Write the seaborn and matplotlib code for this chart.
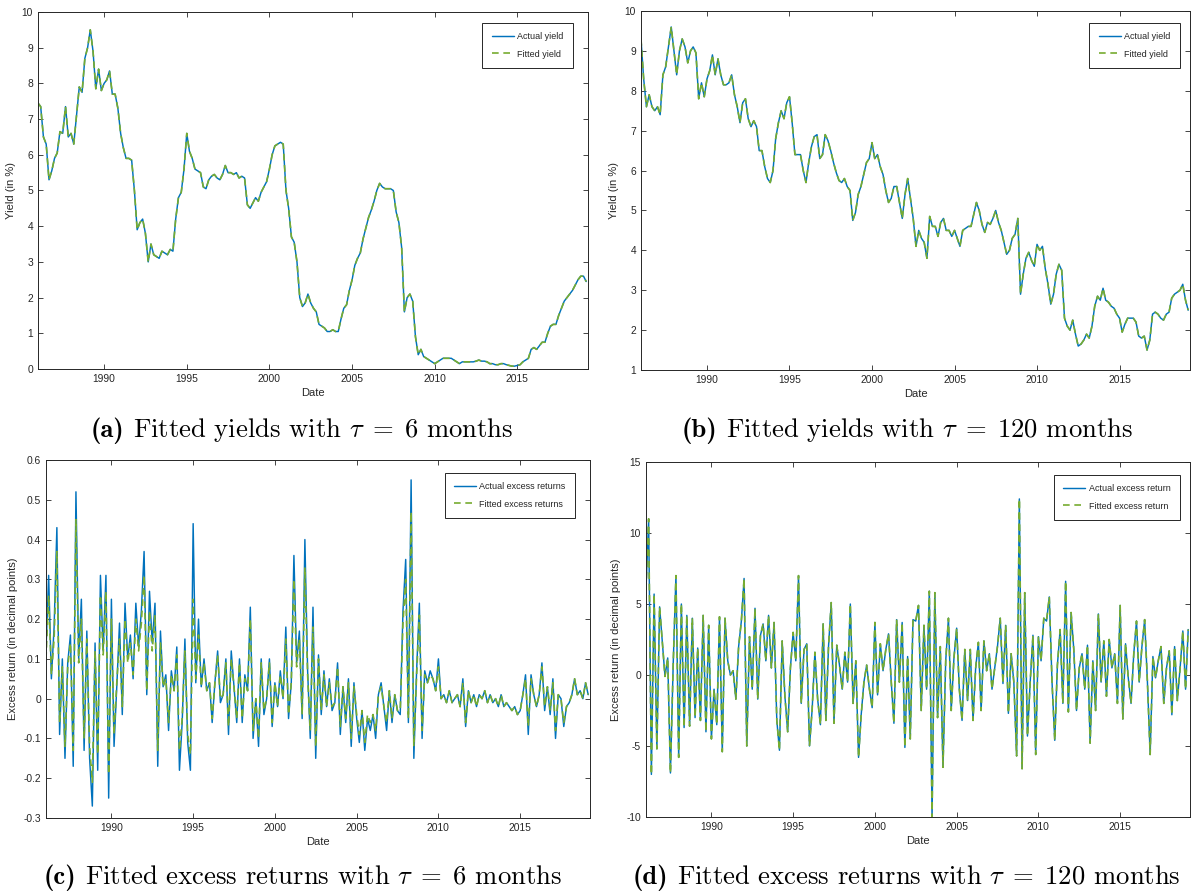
import numpy as np
import pandas as pd
import matplotlib
matplotlib.use("Agg")
import matplotlib.pyplot as plt
import matplotlib.dates as mdates
from matplotlib.ticker import FuncFormatter
import seaborn as sns

# bimonthly observations, Jan 1986 .. Mar 2019
dates = pd.date_range("1986-01-01", periods=200, freq="2MS")

# (a) 6-month yield, in %
yield_6m = [
    7.45, 7.35, 6.5, 6.3, 5.3, 5.55,
    5.9, 6.05, 6.65, 6.6, 7.35, 6.5,
    6.6, 6.3, 7.1, 7.9, 7.75, 8.7,
    9.0, 9.5, 8.9, 7.85, 8.4, 7.8,
    8.0, 8.1, 8.35, 7.7, 7.7, 7.3,
    6.6, 6.2, 5.9, 5.9, 5.85, 5.0,
    3.9, 4.1, 4.2, 3.8, 3.0, 3.5,
    3.2, 3.15, 3.1, 3.3, 3.25, 3.2,
    3.35, 3.3, 4.2, 4.8, 4.95, 5.6,
    6.6, 6.1, 5.9, 5.6, 5.55, 5.5,
    5.1, 5.05, 5.3, 5.4, 5.45, 5.35,
    5.3, 5.45, 5.7, 5.5, 5.5, 5.45,
    5.5, 5.35, 5.4, 5.35, 4.6, 4.5,
    4.65, 4.8, 4.7, 4.95, 5.1, 5.25,
    5.6, 6.0, 6.25, 6.3, 6.35, 6.3,
    5.0, 4.5, 3.7, 3.55, 3.0, 2.0,
    1.75, 1.85, 2.1, 1.85, 1.7, 1.6,
    1.25, 1.2, 1.15, 1.05, 1.05, 1.1,
    1.05, 1.05, 1.4, 1.7, 1.8, 2.2,
    2.5, 2.9, 3.1, 3.25, 3.65, 3.95,
    4.25, 4.45, 4.7, 5.0, 5.2, 5.1,
    5.05, 5.05, 5.05, 5.0, 4.4, 4.1,
    3.4, 1.6, 2.0, 2.1, 1.9, 0.9,
    0.4, 0.55, 0.35, 0.3, 0.25, 0.2,
    0.15, 0.2, 0.25, 0.3, 0.3, 0.3,
    0.3, 0.25, 0.2, 0.15, 0.2, 0.2,
    0.2, 0.2, 0.2, 0.22, 0.25, 0.22,
    0.22, 0.2, 0.15, 0.15, 0.12, 0.12,
    0.15, 0.15, 0.12, 0.1, 0.08, 0.08,
    0.1, 0.12, 0.2, 0.25, 0.3, 0.55,
    0.6, 0.55, 0.65, 0.75, 0.75, 1.0,
    1.2, 1.25, 1.25, 1.5, 1.7, 1.9,
    2.0, 2.1, 2.2, 2.35, 2.5, 2.6,
    2.6, 2.45,
]
fitted_6m = yield_6m  # fitted line sits on top of the actual one

# (b) 120-month yield, in %
yield_120m = [
    9.3, 8.3, 7.6, 7.9, 7.6, 7.5,
    7.6, 7.4, 8.4, 8.6, 9.1, 9.6,
    9.0, 8.4, 9.0, 9.3, 9.1, 8.7,
    9.0, 9.1, 8.95, 7.8, 8.2, 7.85,
    8.3, 8.5, 8.9, 8.4, 8.8, 8.4,
    8.15, 8.15, 8.2, 8.4, 7.9, 7.6,
    7.2, 7.7, 7.8, 7.3, 7.1, 7.25,
    7.1, 6.5, 6.5, 6.1, 5.8, 5.7,
    6.0, 6.8, 7.2, 7.5, 7.3, 7.7,
    7.85, 7.2, 6.4, 6.4, 6.4, 6.0,
    5.7, 6.2, 6.6, 6.85, 6.9, 6.3,
    6.4, 6.9, 6.75, 6.5, 6.2, 5.95,
    5.75, 5.7, 5.8, 5.6, 5.5, 4.75,
    4.95, 5.4, 5.6, 5.9, 6.2, 6.3,
    6.7, 6.3, 6.4, 6.1, 5.9, 5.5,
    5.2, 5.3, 5.6, 5.6, 5.2, 4.8,
    5.4, 5.8, 5.3, 4.8, 4.1, 4.5,
    4.3, 4.2, 3.8, 4.85, 4.6, 4.6,
    4.35, 4.7, 4.8, 4.5, 4.5, 4.35,
    4.5, 4.3, 4.1, 4.5, 4.55, 4.6,
    4.6, 4.9, 5.2, 5.0, 4.65, 4.45,
    4.7, 4.65, 4.8, 5.0, 4.7, 4.5,
    4.2, 3.9, 4.0, 4.3, 4.4, 4.8,
    2.9, 3.4, 3.8, 3.95, 3.75, 3.6,
    4.15, 4.0, 4.1, 3.55, 3.15, 2.65,
    2.9, 3.4, 3.65, 3.5, 2.3, 2.1,
    2.0, 2.25, 1.9, 1.6, 1.65, 1.75,
    1.9, 1.8, 2.1, 2.6, 2.85, 2.75,
    3.05, 2.75, 2.7, 2.6, 2.55, 2.4,
    2.3, 1.95, 2.15, 2.3, 2.3, 2.3,
    2.2, 1.85, 1.8, 1.85, 1.5, 1.75,
    2.4, 2.45, 2.4, 2.3, 2.25, 2.4,
    2.45, 2.8, 2.9, 2.95, 3.0, 3.15,
    2.75, 2.5,
]
fitted_120m = yield_120m

# (c) 6-month excess returns
xr_6m = [
    0.12, 0.31, 0.05, 0.18, 0.43, -0.09,
    0.10, -0.15, 0.09, 0.16, -0.17, 0.52,
    0.10, 0.25, -0.13, 0.17, -0.15, -0.27,
    0.14, -0.18, 0.31, 0.12, 0.31, -0.25,
    0.25, -0.12, 0.03, 0.19, -0.04, 0.24,
    0.10, 0.16, 0.05, 0.24, 0.13, 0.22,
    0.37, 0.01, 0.27, 0.14, 0.24, -0.17,
    0.17, 0.03, 0.06, -0.08, 0.07, 0.02,
    0.13, -0.18, -0.06, 0.15, -0.11, -0.18,
    0.44, 0.04, 0.20, 0.03, 0.10, 0.02,
    0.04, -0.06, 0.04, 0.12, -0.01, 0.01,
    0.10, -0.09, 0.12, 0.03, -0.06, 0.10,
    -0.06, 0.06, 0.02, 0.23, -0.10, 0.00,
    -0.12, 0.10, -0.04, 0.00, 0.10, -0.07,
    0.04, -0.02, 0.07, 0.00, 0.18, -0.05,
    0.04, 0.36, 0.09, 0.17, -0.05, 0.40,
    0.07, -0.10, 0.23, -0.15, 0.11, -0.04,
    0.07, -0.02, 0.05, -0.03, -0.01, 0.09,
    -0.09, 0.03, -0.06, 0.05, -0.12, 0.04,
    -0.05, -0.11, -0.03, -0.13, -0.05, -0.08,
    -0.04, -0.10, 0.01, 0.04, -0.02, -0.08,
    0.02, -0.06, 0.01, -0.03, -0.04, 0.22,
    0.35, -0.06, 0.55, -0.15, 0.07, 0.24,
    -0.10, 0.07, 0.04, 0.07, 0.05, 0.02,
    0.10, 0.00, 0.01, -0.01, 0.02, -0.01,
    0.00, 0.01, -0.02, 0.05, -0.07, 0.02,
    -0.01, 0.01, -0.02, 0.01, 0.00, 0.02,
    -0.01, 0.01, -0.01, 0.00, -0.02, 0.01,
    -0.02, -0.01, -0.02, -0.03, -0.02, -0.04,
    -0.03, 0.01, 0.06, -0.09, 0.06, 0.01,
    -0.02, 0.01, 0.09, -0.03, 0.03, -0.04,
    0.05, -0.10, 0.01, 0.00, -0.07, -0.02,
    -0.01, 0.01, 0.05, 0.01, 0.02, 0.00,
    0.04, 0.01,
]
fitted_xr_6m = [
    0.10, 0.26, 0.06, 0.15, 0.37, -0.06,
    0.08, -0.12, 0.08, 0.14, -0.13, 0.45,
    0.09, 0.20, -0.10, 0.15, -0.12, -0.21,
    0.12, -0.14, 0.26, 0.11, 0.27, -0.19,
    0.20, -0.09, 0.04, 0.15, -0.02, 0.20,
    0.09, 0.14, 0.06, 0.20, 0.12, 0.19,
    0.31, 0.02, 0.22, 0.12, 0.21, -0.13,
    0.14, 0.03, 0.05, -0.06, 0.06, 0.02,
    0.11, -0.13, -0.05, 0.12, -0.09, -0.14,
    0.25, 0.05, 0.16, 0.03, 0.09, 0.02,
    0.04, -0.05, 0.04, 0.11, 0.00, 0.01,
    0.09, -0.07, 0.10, 0.03, -0.05, 0.09,
    -0.05, 0.05, 0.02, 0.20, -0.08, 0.00,
    -0.10, 0.09, -0.03, 0.00, 0.09, -0.06,
    0.04, -0.02, 0.06, 0.00, 0.15, -0.04,
    0.04, 0.30, 0.08, 0.15, -0.04, 0.33,
    0.06, -0.08, 0.18, -0.12, 0.10, -0.03,
    0.06, -0.02, 0.04, -0.02, -0.01, 0.08,
    -0.07, 0.03, -0.05, 0.04, -0.10, 0.03,
    -0.04, -0.09, -0.03, -0.11, -0.04, -0.06,
    -0.04, -0.08, 0.01, 0.03, -0.02, -0.06,
    0.02, -0.05, 0.01, -0.03, -0.03, 0.19,
    0.30, -0.05, 0.47, -0.12, 0.06, 0.21,
    -0.08, 0.06, 0.04, 0.06, 0.05, 0.02,
    0.08, 0.00, 0.01, -0.01, 0.02, -0.01,
    0.00, 0.01, -0.02, 0.04, -0.06, 0.02,
    -0.01, 0.01, -0.02, 0.01, 0.00, 0.02,
    -0.01, 0.01, -0.01, 0.00, -0.02, 0.01,
    -0.02, -0.01, -0.02, -0.03, -0.02, -0.04,
    -0.03, 0.01, 0.05, -0.07, 0.05, 0.01,
    -0.02, 0.01, 0.08, -0.02, 0.03, -0.03,
    0.04, -0.08, 0.01, 0.00, -0.06, -0.02,
    -0.01, 0.01, 0.05, 0.01, 0.02, 0.00,
    0.04, 0.01,
]

# (d) 120-month excess returns
xr_120m = [
    6.0, 11.0, -7.0, 5.7, -5.2, 4.8,
    2.3, -0.1, 1.2, -6.9, 0.8, 7.0,
    -5.8, 5.0, -3.7, 4.2, -3.6, 4.0,
    -3.0, 1.9, -3.2, 4.2, -4.0, 3.5,
    -4.5, -1.0, -3.5, 4.1, -5.4, 4.0,
    1.0, 0.0, 0.3, -1.7, 2.0, 3.8,
    6.8, -5.0, 2.7, -1.0, 4.7, -1.7,
    2.8, 3.6, 1.0, 4.2, 0.5, 3.7,
    -3.2, -5.3, 2.4, -1.5, -4.0, 0.5,
    3.0, 1.0, 7.0, -2.0, 1.8, 2.2,
    -5.0, -2.4, 1.6, -1.7, -3.5, 3.6,
    -3.2, 2.0, 5.1, -3.4, 2.1, 0.7,
    -1.0, 1.6, -0.5, 5.0, -2.0, 1.0,
    -5.8, -2.8, -0.5, 0.7, -1.0, -2.3,
    3.7, -1.4, 2.2, 0.3, 1.8, 2.9,
    -0.5, -3.4, 3.9, -0.5, 3.7, -5.1,
    1.3, -4.5, 3.9, 3.8, 4.9, -2.5,
    3.5, -1.0, 5.9, -10.0, 5.8, -3.0,
    2.0, -6.5, 1.0, 4.0, -2.5, 1.2,
    3.3, -1.0, -3.2, 1.8, -1.8, 1.8,
    -3.2, 0.5, 2.3, -2.5, 2.4, 0.3,
    1.5, -1.0, 0.5, 2.0, 4.0, -0.6,
    3.5, -2.7, 1.5, -0.5, -5.7, 12.4,
    -6.6, 5.8, -4.3, -0.5, 2.8, -5.6,
    2.7, 1.0, 4.0, 3.8, 5.5, -0.5,
    -4.6, 0.7, 3.2, -2.0, 6.6, -2.6,
    4.4, 1.8, -2.5, 0.5, 1.5, -1.0,
    2.1, -4.8, 1.0, -2.5, 4.3, -0.5,
    2.4, -1.5, 2.5, 0.5, 1.5, -2.0,
    4.9, -3.1, 2.2, -0.2, -2.0, 1.5,
    3.8, -0.5, 2.0, 3.9, -0.5, -5.6,
    1.3, -0.2, 1.0, 2.0, -2.0, 0.5,
    1.7, -2.8, 2.0, -1.8, 0.5, 3.1,
    -1.0, 3.2,
]
fitted_xr_120m = xr_120m

yticks_a = [0, 1, 2, 3, 4, 5, 6, 7, 8, 9, 10]
yticks_b = [1, 2, 3, 4, 5, 6, 7, 8, 9, 10]
yticks_c = [-0.3, -0.2, -0.1, 0, 0.1, 0.2, 0.3, 0.4, 0.5, 0.6]
yticks_d = [-10, -5, 0, 5, 10, 15]

for s in (yield_6m, yield_120m, xr_6m, fitted_xr_6m, xr_120m):
    assert len(s) == len(dates)

BLUE = "#0072BD"
GREEN = "#77AC30"
INK = "#262626"
W, H = 1192, 893

sns.set_theme(style="white")
plt.rcParams["font.family"] = ["Liberation Sans", "DejaVu Sans"]
plt.rcParams["mathtext.fontset"] = "cm"
plt.rcParams["axes.unicode_minus"] = False

fig = plt.figure(figsize=(W / 100, H / 100), dpi=100, facecolor="white")


def px_rect(left, top, right, bottom):
    return [left / W, 1 - bottom / H, (right - left) / W, (bottom - top) / H]


def panel(rect, actual, fitted, names, ylabel, yticks, leg_gap):
    ax = fig.add_axes(rect)
    df = pd.DataFrame({"Date": dates, names[0]: actual, names[1]: fitted})
    df = df.melt("Date", var_name="series", value_name="value")
    sns.lineplot(data=df, x="Date", y="value", hue="series", style="series",
                 hue_order=names, style_order=names, palette=[BLUE, GREEN],
                 dashes={names[0]: "", names[1]: (4, 2.8)}, linewidth=1.05,
                 estimator=None, legend=False, ax=ax)
    lines = [ln for ln in ax.get_lines() if len(ln.get_xdata()) > 0]
    lines[1].set_linewidth(1.2)

    ax.set_xlim(pd.Timestamp("1986-01-01"), pd.Timestamp("2019-04-10"))
    ax.set_ylim(yticks[0], yticks[-1])
    ax.set_yticks(yticks)
    ax.yaxis.set_major_formatter(FuncFormatter(lambda v, p: f"{v:g}"))
    ax.xaxis.set_major_locator(mdates.YearLocator(5))
    ax.xaxis.set_major_formatter(mdates.DateFormatter("%Y"))

    ax.tick_params(direction="in", length=3.5, width=0.6, colors=INK,
                   labelsize=7.4, pad=3.5, bottom=True, left=True, top=True, right=True)
    for sp in ax.spines.values():
        sp.set_visible(True)
        sp.set_color(INK)
        sp.set_linewidth(0.7)
    ax.set_xlabel("Date", fontsize=8, color=INK, labelpad=3)
    ax.set_ylabel(ylabel, fontsize=8, color=INK)

    w_px = rect[2] * W
    h_px = rect[3] * H
    leg = ax.legend(lines[:2], names, loc="upper right",
                    bbox_to_anchor=(1 - leg_gap[0] / w_px, 1 - leg_gap[1] / h_px),
                    borderaxespad=0, fontsize=6.5, frameon=True, fancybox=False,
                    framealpha=1, edgecolor=INK, borderpad=1.05, labelspacing=0.9,
                    handlelength=2.4, handletextpad=0.4)
    leg.get_frame().set_linewidth(0.7)
    return ax


panel(px_rect(38, 12, 588, 369), yield_6m, fitted_6m,
      ["Actual yield", "Fitted yield"], "Yield (in %)", yticks_a, (15, 11))
panel(px_rect(641, 11, 1190, 370), yield_120m, fitted_120m,
      ["Actual yield", "Fitted yield"], "Yield (in %)", yticks_b, (10, 12))
panel(px_rect(46, 460, 590, 818), xr_6m, fitted_xr_6m,
      ["Actual excess returns", "Fitted excess returns"],
      "Excess return (in decimal points)", yticks_c, (15, 13))
panel(px_rect(646, 462, 1190, 817), xr_120m, fitted_xr_120m,
      ["Actual excess return", "Fitted excess return"],
      "Excess return (in decimal points)", yticks_d, (10, 13))

# captions: bold tag in cmb10, the rest in cmr10, centred as one line
captions = [
    (302, 431, "(a)", r"Fitted yields with $\tau\;=\;6$ months"),
    (907, 431, "(b)", r"Fitted yields with $\tau\;=\;120$ months"),
    (303, 878, "(c)", r"Fitted excess returns with $\tau\;=\;6$ months"),
    (907, 878, "(d)", r"Fitted excess returns with $\tau\;=\;120$ months"),
]
CAP_FS = 19.2
renderer = fig.canvas.get_renderer()
for cx, cy, tag, rest in captions:
    base = 1 - (cy + 6) / H
    t1 = fig.text(0, base, tag, ha="left", va="baseline", fontsize=CAP_FS,
                  family="cmb10", color="black")
    t2 = fig.text(0, base, rest, ha="left", va="baseline", fontsize=CAP_FS,
                  family="cmr10", color="black")
    w1 = t1.get_window_extent(renderer).width
    w2 = t2.get_window_extent(renderer).width
    gap = CAP_FS * 100 / 72 * 0.33
    x0 = cx - (w1 + gap + w2) / 2
    t1.set_x(x0 / W)
    t2.set_x((x0 + w1 + gap) / W)

fig.savefig("out.png", dpi=100, facecolor="white")
